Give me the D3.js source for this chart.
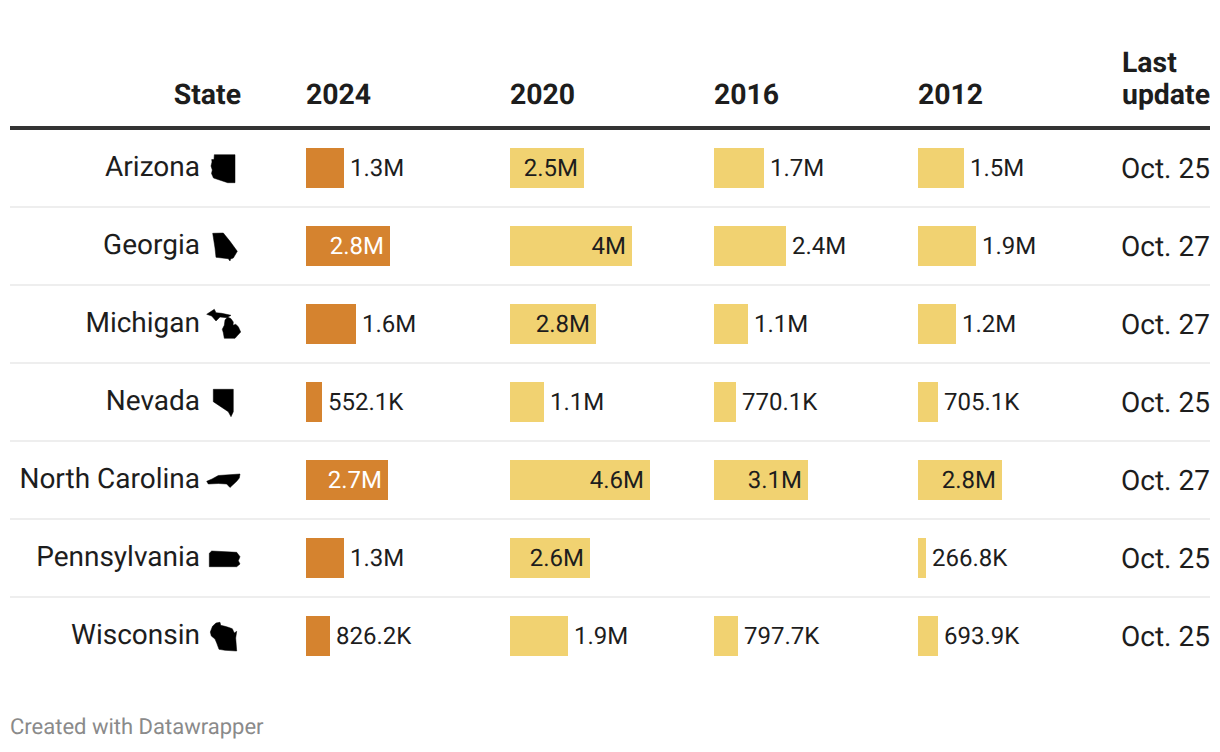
<!DOCTYPE html>
<html>
<head>
<meta charset="utf-8">
<script src="https://cdn.jsdelivr.net/npm/d3@7/dist/d3.min.js"></script>
<style>
html,body{margin:0;padding:0;background:#fff}
svg{display:block}
text{font-family:Roboto,sans-serif;text-rendering:geometricPrecision}
</style>
</head>
<body>
<svg id="chart" width="1220" height="752"></svg>
<script>
const states = ["Arizona","Georgia","Michigan","Nevada","North Carolina","Pennsylvania","Wisconsin"];
const years = ["2024","2020","2016","2012"];
const values2024 = [1.26e6,2.78e6,1.645e6,552100,2.7e6,1.26e6,826200];
const values2020 = [2.45e6,4.02e6,2.83e6,1.12e6,4.605e6,2.63e6,1.91e6];
const values2016 = [1.66e6,2.38e6,1.12e6,770100,3.09e6,null,797700];
const values2012 = [1.52e6,1.91e6,1.25e6,705100,2.77e6,266800,693900];
const labels2024 = ["1.3M","2.8M","1.6M","552.1K","2.7M","1.3M","826.2K"];
const labels2020 = ["2.5M","4M","2.8M","1.1M","4.6M","2.6M","1.9M"];
const labels2016 = ["1.7M","2.4M","1.1M","770.1K","3.1M","","797.7K"];
const labels2012 = ["1.5M","1.9M","1.2M","705.1K","2.8M","266.8K","693.9K"];
const lastUpdate = ["Oct. 25","Oct. 27","Oct. 27","Oct. 25","Oct. 27","Oct. 25","Oct. 25"];
const icons = [
 [[9.3,4.7],[30,4.7],[30,32.7],[22.7,32.7],[8.5,28],[6.5,23.5],[7.3,20],[6,16],[7,12],[6.7,9.5],[9,9.5]],
 [[7.7,5.3],[18.3,5],[25,13.3],[32.3,23.3],[28.3,30],[25.5,31],[25,33],[23.3,30.7],[11,29.3],[10,20]],
 [[1.7,8.3],[9.3,3.3],[11,6.7],[16.7,7.3],[26,9.3],[21.7,11.7],[15,11],[11,15],[6.7,10],[1.7,8.3]],
 [[8.3,5.3],[28.3,5.3],[28.3,27.7],[26,32.7],[23.3,27.7],[8.3,17.7]],
 [[1.7,19.3],[7,17],[13.3,13.5],[35,12],[34.3,16],[31.7,19.3],[25,25.5],[21.7,22],[13.3,21.5],[3.3,22]],
 [[4.3,13.3],[6.7,11],[31.7,12.3],[35,16.7],[33.3,20.7],[35,24],[31.7,26.7],[4.3,26.7]],
 [[5.3,14],[7.5,8.3],[11,5],[15,4.3],[15.7,7.3],[20,8.3],[23.3,9.3],[27.3,10.7],[29.3,15],[31.7,13.3],[30.7,20],[31.7,33],[20,32.3],[14,31.3],[11.7,25],[10,21],[6.3,18]]
];
const michiganLower = [[20,14],[22.7,11],[26,12.7],[28.3,16],[28,19.3],[30.7,18.3],[33.3,20.7],[35.7,26],[32.7,29.3],[30,32.3],[19.3,32.3],[18.3,26.7],[17.3,23.3],[19.3,19.3]];

const svg = d3.select("#chart");
const orange = "#d5832f", yellow = "#f1d271", ink = "#1d1d1d";
const colX = d3.scalePoint().domain(years).range([306,918]);
const rowY = d3.scaleBand().domain(states).range([129,675]);
const x = d3.scaleLinear().domain([0,4.6e6]).range([0,140]);
const snap = v => 2*Math.floor(x(v)/2);
const rowMid = s => rowY(s)+rowY.bandwidth()/2;
const series = [
 {year:"2024",values:values2024,labels:labels2024,color:orange,inside:"#fff"},
 {year:"2020",values:values2020,labels:labels2020,color:yellow,inside:ink},
 {year:"2016",values:values2016,labels:labels2016,color:yellow,inside:ink},
 {year:"2012",values:values2012,labels:labels2012,color:yellow,inside:ink}
];
const insideMin = 2.44e6;

// header
const hdr = svg.append("g").attr("font-weight",700).attr("font-size",28.4).attr("fill",ink);
hdr.append("text").attr("x",241).attr("y",104).attr("text-anchor","end").text("State");
years.forEach(y=>hdr.append("text").attr("x",colX(y)).attr("y",104).text(y));
hdr.append("text").attr("x",1122).attr("y",72).text("Last");
hdr.append("text").attr("x",1122).attr("y",104).text("update");
svg.append("rect").attr("x",10).attr("y",126).attr("width",1200).attr("height",4).attr("fill","#333");

// separators
svg.append("g").selectAll("rect").data(states.slice(1)).join("rect")
 .attr("x",10).attr("width",1200).attr("height",2).attr("fill","#eeeeee")
 .attr("y",s=>rowY(s)-1);

// names + icons
svg.append("g").attr("font-size",28).attr("fill",ink).selectAll("text").data(states).join("text")
 .attr("x",200).attr("y",s=>rowMid(s)+8).attr("text-anchor","end").text(s=>s);
const line = d3.line();
const iconG = svg.append("g").attr("fill","#000").attr("stroke","#000").attr("stroke-width",0.5);
states.forEach((s,i)=>{
  const g = iconG.append("g").attr("transform",`translate(205,${rowMid(s)-18})`);
  g.append("path").attr("d",line(icons[i])+"Z");
  if(s==="Michigan") g.append("path").attr("d",line(michiganLower)+"Z");
});

// bars
series.forEach(c=>{
  const g = svg.append("g").attr("transform",`translate(${colX(c.year)},0)`);
  states.forEach((s,i)=>{
    const v=c.values[i];
    if(v==null) return;
    const w=snap(v), inside=v>=insideMin;
    g.append("rect").attr("x",0).attr("y",rowMid(s)-20).attr("width",w).attr("height",40).attr("fill",c.color);
    g.append("text").attr("font-size",24)
      .attr("x",inside?w-6:w+6).attr("y",rowMid(s)+8)
      .attr("text-anchor",inside?"end":"start")
      .attr("fill",inside?c.inside:ink).text(c.labels[i]);
  });
});

// last update
svg.append("g").attr("font-size",28).attr("fill",ink).selectAll("text").data(states).join("text")
 .attr("x",1121).attr("y",s=>rowMid(s)+10).text((s,i)=>lastUpdate[i]);

svg.append("text").attr("x",10).attr("y",734).attr("font-size",22).attr("fill","#8a8a8a").text("Created with Datawrapper");
</script>
</body>
</html>
